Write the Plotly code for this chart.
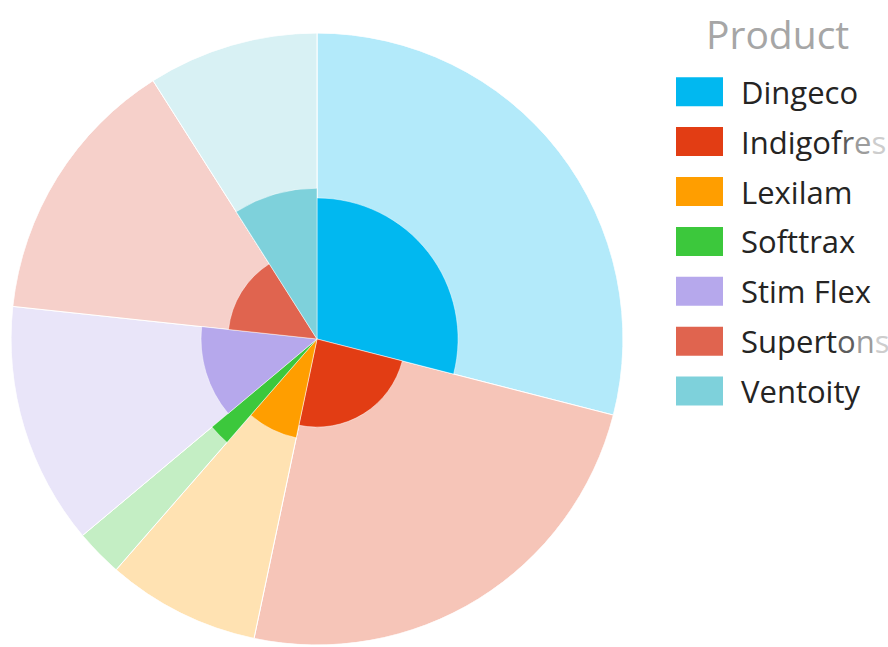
import numpy as np
import plotly.graph_objects as go

# Product mix: slice angle = share of sales, inner radius = score
products = ["Dingeco", "Indigofresh", "Lexilam", "Softtrax", "Stim Flex", "Supertonsic", "Ventoity"]
share = [29.0, 24.3, 8.1, 2.5, 12.8, 14.3, 9.0]
score = [46.1, 28.8, 33.0, 44.8, 37.9, 29.1, 49.3]
max_score = 100
colors = ["#01B8F0", "#E23D14", "#FF9E00", "#3CC83C", "#B6A8EC", "#E0644F", "#7ED1DB"]

W, H = 888, 647


def tint(hex_color, alpha=0.3):
    """Blend a colour with white (solid, no transparency)."""
    h = hex_color.lstrip("#")
    rgb = [int(h[i:i + 2], 16) for i in (0, 2, 4)]
    mixed = [round(255 - alpha * (255 - c)) for c in rgb]
    return "rgb({},{},{})".format(*mixed)


light = [tint(c) for c in colors]

share_arr = np.array(share, dtype=float)
deg = share_arr / share_arr.sum() * 360.0
start = np.concatenate([[0.0], np.cumsum(deg)[:-1]])
theta = start + deg / 2

fig = go.Figure()

# light full-radius wedges
fig.add_trace(go.Barpolar(
    r=[max_score] * len(products), theta=theta, width=deg,
    marker=dict(color=light, line=dict(color="white", width=1)),
    showlegend=False, hoverinfo="skip",
))
# solid wedges sized by score
fig.add_trace(go.Barpolar(
    r=score, theta=theta, width=deg, text=products,
    marker=dict(color=colors, line=dict(color="rgba(255,255,255,0.6)", width=0.8)),
    showlegend=False, hovertemplate="%{text}: %{r}<extra></extra>",
))

cx, cy, R = 317, 339, 306
fig.update_layout(
    width=W, height=H,
    margin=dict(l=0, r=0, t=0, b=0),
    paper_bgcolor="white",
    polar=dict(
        domain=dict(x=[(cx - R) / W, (cx + R) / W], y=[(H - cy - R) / H, (H - cy + R) / H]),
        bgcolor="white",
        barmode="overlay",
        hole=0,
        radialaxis=dict(visible=False, range=[0, max_score]),
        angularaxis=dict(visible=False, rotation=90, direction="clockwise"),
    ),
    font=dict(family="Open Sans"),
)

# long labels fade out towards the right edge of the legend
fade_from = {"Indigofresh": 7, "Supertonsic": 6}
fade_steps = ["#5c5c5c", "#9c9c9c", "#cdcdcd", "#ececec", "#f6f6f6", "#fafafa"]


def legend_text(name):
    k = fade_from.get(name)
    if k is None:
        return name
    out = name[:k]
    for j, ch in enumerate(name[k:]):
        col = fade_steps[min(j, len(fade_steps) - 1)]
        out += "<span style='color:{}'>{}</span>".format(col, ch)
    return out


# legend
shapes, annotations = [], []
annotations.append(dict(
    text="Product", x=704 / W, y=1 - 33 / H, xref="paper", yref="paper",
    xanchor="left", yanchor="middle", showarrow=False,
    font=dict(size=39, color="#A6A6A6", family="Open Sans"),
))
for i, (name, col) in enumerate(zip(products, colors)):
    yc = 91.7 + 49.9 * i
    shapes.append(dict(
        type="rect", xref="paper", yref="paper",
        x0=676 / W, x1=723 / W, y0=1 - (yc - 14.5) / H, y1=1 - (yc + 14.5) / H,
        fillcolor=col, line=dict(width=0),
    ))
    annotations.append(dict(
        text=legend_text(name), x=739 / W, y=1 - yc / H, xref="paper", yref="paper",
        xanchor="left", yanchor="middle", showarrow=False,
        font=dict(size=31, color="#252423", family="Open Sans"),
    ))
fig.update_layout(shapes=shapes, annotations=annotations)

fig.write_html("out.html")
